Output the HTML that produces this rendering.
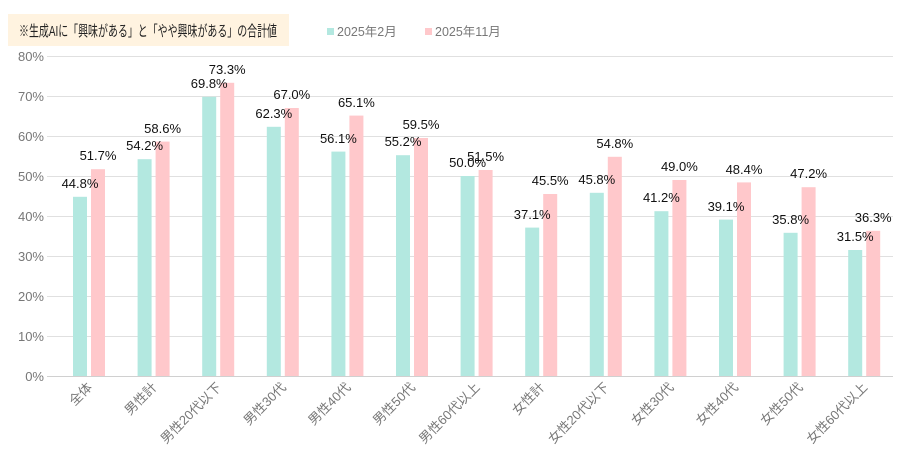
<!DOCTYPE html>
<html><head><meta charset="utf-8"><style>
body{margin:0;background:#fff;}
svg{display:block;font-family:"Liberation Sans","Noto Sans CJK JP",sans-serif;}
</style></head><body>
<svg width="907" height="466" viewBox="0 0 907 466">
<rect x="8" y="14" width="281" height="32" fill="#fff3e0"/>
<text x="19" y="36" font-size="15" fill="#222" textLength="258" lengthAdjust="spacingAndGlyphs">※生成AIに「興味がある」と「やや興味がある」の合計値</text>
<rect x="327" y="28" width="7" height="7" fill="#b3e8e0"/>
<text x="337" y="36" font-size="12.5" fill="#777">2025年2月</text>
<rect x="425" y="28" width="7" height="7" fill="#ffc8cb"/>
<text x="435" y="36" font-size="12.5" fill="#777">2025年11月</text>
<g stroke="#e0e0e0" stroke-width="1">
<line x1="47" x2="893" y1="56.5" y2="56.5"/><line x1="47" x2="893" y1="96.5" y2="96.5"/>
<line x1="47" x2="893" y1="136.5" y2="136.5"/><line x1="47" x2="893" y1="176.5" y2="176.5"/>
<line x1="47" x2="893" y1="216.5" y2="216.5"/><line x1="47" x2="893" y1="256.5" y2="256.5"/>
<line x1="47" x2="893" y1="296.5" y2="296.5"/><line x1="47" x2="893" y1="336.5" y2="336.5"/>
</g>
<line x1="47" x2="893" y1="376.5" y2="376.5" stroke="#d0d0d0"/>
<g font-size="13" fill="#777" text-anchor="end">
<text x="44" y="61">80%</text><text x="44" y="101">70%</text><text x="44" y="141">60%</text>
<text x="44" y="181">50%</text><text x="44" y="221">40%</text><text x="44" y="261">30%</text>
<text x="44" y="301">20%</text><text x="44" y="341">10%</text><text x="44" y="381">0%</text>
</g>
<g fill="#b3e8e0">
<rect x="73" y="196.8" width="14" height="179.2"/>
<rect x="137.6" y="159.2" width="14" height="216.8"/>
<rect x="202.2" y="96.8" width="14" height="279.2"/>
<rect x="266.8" y="126.8" width="14" height="249.2"/>
<rect x="331.4" y="151.6" width="14" height="224.4"/>
<rect x="396" y="155.2" width="14" height="220.8"/>
<rect x="460.6" y="176" width="14" height="200"/>
<rect x="525.2" y="227.6" width="14" height="148.4"/>
<rect x="589.8" y="192.8" width="14" height="183.2"/>
<rect x="654.4" y="211.2" width="14" height="164.8"/>
<rect x="719" y="219.6" width="14" height="156.4"/>
<rect x="783.6" y="232.8" width="14" height="143.2"/>
<rect x="848.2" y="250" width="14" height="126"/>
</g>
<g fill="#ffc8cb">
<rect x="91" y="169.2" width="14" height="206.8"/>
<rect x="155.6" y="141.6" width="14" height="234.4"/>
<rect x="220.2" y="82.8" width="14" height="293.2"/>
<rect x="284.8" y="108" width="14" height="268"/>
<rect x="349.4" y="115.6" width="14" height="260.4"/>
<rect x="414" y="138" width="14" height="238"/>
<rect x="478.6" y="170" width="14" height="206"/>
<rect x="543.2" y="194" width="14" height="182"/>
<rect x="607.8" y="156.8" width="14" height="219.2"/>
<rect x="672.4" y="180" width="14" height="196"/>
<rect x="737" y="182.4" width="14" height="193.6"/>
<rect x="801.6" y="187.2" width="14" height="188.8"/>
<rect x="866.2" y="230.8" width="14" height="145.2"/>
</g>
<g font-size="13" fill="#111" text-anchor="middle">
<text x="80" y="188">44.8%</text><text x="98" y="160">51.7%</text>
<text x="144.6" y="150">54.2%</text><text x="162.6" y="133">58.6%</text>
<text x="209.2" y="88">69.8%</text><text x="227.2" y="74">73.3%</text>
<text x="273.8" y="118">62.3%</text><text x="291.8" y="99">67.0%</text>
<text x="338.4" y="143">56.1%</text><text x="356.4" y="107">65.1%</text>
<text x="403" y="146">55.2%</text><text x="421" y="129">59.5%</text>
<text x="467.6" y="167">50.0%</text><text x="485.6" y="161">51.5%</text>
<text x="532.2" y="219">37.1%</text><text x="550.2" y="185">45.5%</text>
<text x="596.8" y="184">45.8%</text><text x="614.8" y="148">54.8%</text>
<text x="661.4" y="202">41.2%</text><text x="679.4" y="171">49.0%</text>
<text x="726" y="211">39.1%</text><text x="744" y="174">48.4%</text>
<text x="790.6" y="224">35.8%</text><text x="808.6" y="178">47.2%</text>
<text x="855.2" y="241">31.5%</text><text x="873.2" y="222">36.3%</text>
</g>
<g font-size="13" fill="#777" text-anchor="end">
<text transform="translate(93,388) rotate(-45)">全体</text>
<text transform="translate(157.6,388) rotate(-45)">男性計</text>
<text transform="translate(222.2,388) rotate(-45)">男性20代以下</text>
<text transform="translate(286.8,388) rotate(-45)">男性30代</text>
<text transform="translate(351.4,388) rotate(-45)">男性40代</text>
<text transform="translate(416,388) rotate(-45)">男性50代</text>
<text transform="translate(480.6,388) rotate(-45)">男性60代以上</text>
<text transform="translate(545.2,388) rotate(-45)">女性計</text>
<text transform="translate(609.8,388) rotate(-45)">女性20代以下</text>
<text transform="translate(674.4,388) rotate(-45)">女性30代</text>
<text transform="translate(739,388) rotate(-45)">女性40代</text>
<text transform="translate(803.6,388) rotate(-45)">女性50代</text>
<text transform="translate(868.2,388) rotate(-45)">女性60代以上</text>
</g>
</svg>
</body></html>
